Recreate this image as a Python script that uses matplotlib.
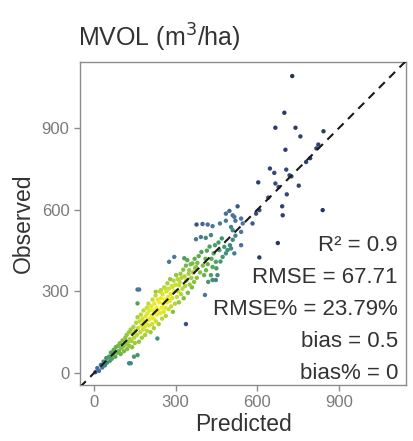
import numpy as np
import matplotlib
matplotlib.use('Agg')
import matplotlib.pyplot as plt
from matplotlib.colors import LinearSegmentedColormap

plt.rcParams['font.family'] = ['Liberation Sans', 'DejaVu Sans']

predicted = [
    5, 12, 18, 25, 30, 35, 40, 45, 48, 55, 58, 62, 65, 70, 72, 78, 80, 85, 88, 92,
    95, 98, 100, 105, 108, 110, 115, 118, 120, 122, 125, 128, 130, 132, 135, 138, 140, 142, 145, 148,
    150, 129, 147, 160, 135,
    152, 155, 158, 160, 162, 165, 168, 170, 172, 175, 176, 178, 180, 182, 184, 186, 188, 190, 192, 194,
    195, 197, 199, 200, 202, 204, 206, 208, 210, 212, 214, 215, 217, 219, 220, 222, 224, 226, 228, 230,
    232, 233, 234, 236, 238, 240, 242, 244, 246, 248, 250, 252, 254, 256, 258, 260, 262, 264, 266, 268,
    270, 272, 274, 276, 278, 280, 282, 284, 286, 288, 290, 292, 295, 298, 300, 302, 305, 308, 310, 312,
    315, 318, 320, 322, 325, 328, 330, 333, 335, 338, 338, 340, 343, 345, 348, 350, 352, 355, 358, 360,
    362, 365, 368, 370, 372, 375, 378,
    160, 160, 227, 246, 264, 289, 313, 276, 295, 166,
    332, 380, 385, 390, 395, 400, 405, 408, 410, 412, 415, 418, 420, 425, 430, 432, 436, 436, 440, 445,
    448, 448, 450, 454, 458, 461, 465, 470, 473, 479, 485, 491, 500, 504, 510, 516, 520, 541, 608, 676,
    377, 399, 418, 436, 463, 393, 411, 430, 375,
    485, 498, 504, 510, 510, 516, 528, 541, 541, 547, 583, 596, 608, 485, 520,
    604, 641, 647, 663, 667, 679, 667, 692, 694, 700, 704, 707, 709, 719, 726, 729, 741, 753, 759, 780,
    795, 818, 825, 841, 844,
]
observed = [
    3, 18, 8, 30, 20, 42, 28, 55, 38, 60, 45, 75, 52, 68, 85, 60, 95, 75, 100, 82,
    110, 70, 92, 120, 98, 80, 130, 105, 140, 88, 115, 150, 100, 125, 160, 118, 95, 145, 170, 130,
    110, 36, 60, 66, 36,
    155, 185, 140, 205, 165, 115, 190, 150, 215, 175, 130, 200, 160, 230, 190, 170, 140, 210, 180, 240,
    155, 220, 195, 255, 175, 230, 200, 150, 245, 210, 180, 270, 230, 200, 165, 255, 220, 285, 190, 240,
    215, 127, 270, 230, 180, 260, 300, 220, 275, 240, 200, 290, 255, 225, 315, 270, 240, 210, 300, 260,
    330, 280, 235, 310, 265, 345, 290, 245, 320, 275, 225, 340, 300, 255, 325, 360, 280, 345, 300, 260,
    335, 365, 290, 350, 310, 380, 275, 355, 320, 180, 395, 340, 415, 295, 365, 378, 325, 400, 350, 315,
    403, 370, 335, 420, 385, 390, 350,
    307, 256, 299, 305, 311, 317, 323, 409, 427, 307,
    422, 405, 430, 370, 445, 395, 360, 287, 420, 378, 450, 400, 335, 465, 360, 420, 342, 390, 440, 470,
    409, 342, 385, 360, 480, 452, 410, 495, 427, 464, 440, 452, 470, 458, 490, 440, 505, 470, 425, 478,
    546, 548, 546, 540, 550, 500, 497, 507, 492,
    586, 596, 537, 580, 525, 574, 613, 568, 519, 550, 550, 586, 599, 560, 560,
    701, 645, 752, 736, 697, 684, 902, 613, 580, 957, 821, 748, 657, 727, 723, 1092, 902, 689, 870, 776,
    790, 826, 840, 599, 889,
]

stat_lines = ['R\u00b2 = 0.9', 'RMSE = 67.71', 'RMSE% = 23.79%', 'bias = 0.5', 'bias% = 0']

x = np.array(predicted, dtype=float)
y = np.array(observed, dtype=float)

# point density (gaussian kernel) for colouring
bw = 55.0
dx = x[:, None] - x[None, :]
dy = y[:, None] - y[None, :]
dens = np.exp(-(dx ** 2 + dy ** 2) / (2 * bw ** 2)).sum(axis=1)
dens = dens / dens.max()
order = np.argsort(dens)

cmap = LinearSegmentedColormap.from_list(
    'dens', [(0.0, '#27305a'), (0.15, '#35497a'), (0.3, '#4d72a0'),
             (0.45, '#3f8f78'), (0.62, '#5fae4c'), (0.82, '#b5d635'), (1.0, '#f4ee2a')])

fig = plt.figure(figsize=(4.14, 4.41), dpi=100)
ax = fig.add_axes([0.193, 0.127, 0.788, 0.732])

lims = (-52, 1148)
ax.plot(lims, lims, linestyle=(0, (4, 3)), color='#1a1a1a', linewidth=1.5, zorder=3)
ax.scatter(x[order], y[order], c=dens[order], cmap=cmap, vmin=0, vmax=1,
           s=10, edgecolors='none', zorder=2)

ax.set_xlim(lims)
ax.set_ylim(-44, 1143)
ax.set_xticks([0, 300, 600, 900])
ax.set_yticks([0, 300, 600, 900])
for s in ax.spines.values():
    s.set_color('#8c8c8c')
    s.set_linewidth(1.0)
ax.tick_params(colors='#8c8c8c', labelcolor='#7a7a7a', labelsize=12, length=4, width=1.0)

ax.set_xlabel('Predicted', fontsize=16.5, color='#333333', labelpad=2)
ax.set_ylabel('Observed', fontsize=16.5, color='#333333', labelpad=5)
fig.text(0.188, 0.915, 'MVOL (m$^3$/ha)', fontsize=18, color='#333333', va='center', ha='left')

for i, t in enumerate(stat_lines):
    ax.text(0.975, 0.433 - i * 0.099, t, transform=ax.transAxes, ha='right', va='center',
            fontsize=16, color='#333333')

fig.savefig('out.png', dpi=100, facecolor='white')
